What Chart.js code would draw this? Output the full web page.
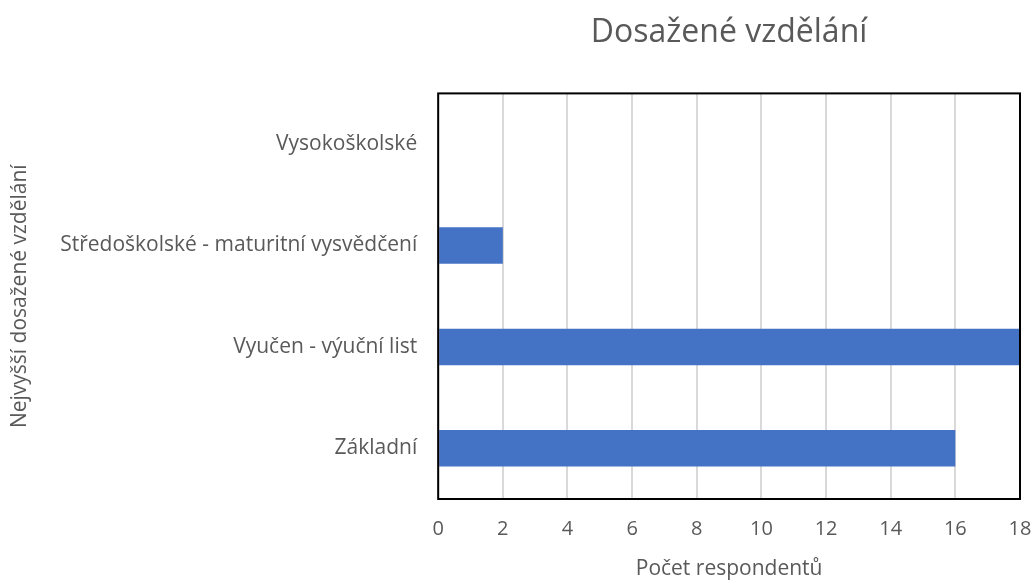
<!DOCTYPE html>
<html>
<head>
<meta charset="utf-8">
<script src="https://cdn.jsdelivr.net/npm/chart.js@4/dist/chart.umd.min.js"></script>
<style>
  html, body { margin: 0; padding: 0; background: #fff; }
  #wrap { width: 1035px; height: 580px; }
</style>
</head>
<body>
<div id="wrap"><canvas id="eduChart"></canvas></div>
<script>
const categories = ['Vysokoškolské', 'Středoškolské - maturitní vysvědčení', 'Vyučen - výuční list', 'Základní'];
const respondents = [0, 2, 18, 16];
const xMin = 0;
const xMax = 18;
const xStep = 2;

const textColor = '#595959';
const fontFamily = '"Open Sans", "Liberation Sans", sans-serif';

// black frame around the plot area
const plotFrame = {
    id: 'plotFrame',
    afterDraw(chart) {
        const a = chart.chartArea;
        const ctx = chart.ctx;
        ctx.save();
        ctx.strokeStyle = '#000';
        ctx.lineWidth = 2;
        ctx.strokeRect(a.left, a.top, a.right - a.left, a.bottom - a.top);
        ctx.restore();
    }
};

document.addEventListener('DOMContentLoaded', function () {
    const ctx = document.getElementById('eduChart').getContext('2d');
    new Chart(ctx, {
        type: 'bar',
        data: {
            labels: categories,
            datasets: [
                {
                    label: 'Počet respondentů',
                    data: respondents,
                    backgroundColor: '#4472C4',
                    borderWidth: 0,
                    categoryPercentage: 1,
                    barPercentage: 0.36,
                },
            ],
        },
        options: {
            indexAxis: 'y',
            responsive: true,
            maintainAspectRatio: false,
            animation: false,
            layout: {
                padding: { top: 12, right: 4, bottom: 0, left: 7 },
            },
            scales: {
                x: {
                    min: xMin,
                    max: xMax,
                    afterFit(scale) {
                        // let the last tick label hang a little past the frame
                        scale.paddingRight = 15;
                    },
                    ticks: {
                        stepSize: xStep,
                        color: textColor,
                        font: { family: fontFamily, size: 20 },
                        padding: 18,
                    },
                    grid: {
                        color: '#d9d9d9',
                        lineWidth: 2,
                        drawTicks: false,
                    },
                    border: { display: false },
                    title: {
                        display: true,
                        text: 'Počet respondentů',
                        color: textColor,
                        font: { family: fontFamily, size: 21, lineHeight: 1.0 },
                        padding: { top: 0, bottom: 0 },
                    },
                },
                y: {
                    ticks: {
                        color: textColor,
                        font: { family: fontFamily, size: 21 },
                        padding: 21,
                    },
                    grid: { display: false, drawTicks: false },
                    border: { display: false },
                    title: {
                        display: true,
                        text: 'Nejvyšší dosažené vzdělání',
                        color: textColor,
                        font: { family: fontFamily, size: 21 },
                        padding: { top: 0, bottom: 7 },
                    },
                },
            },
            plugins: {
                legend: { display: false },
                tooltip: { enabled: false },
                title: {
                    display: true,
                    fullSize: false,
                    text: 'Dosažené vzdělání',
                    color: textColor,
                    font: { family: fontFamily, size: 32, weight: 'normal' },
                    padding: { top: 2, bottom: 41 },
                },
            },
        },
        plugins: [plotFrame],
    });
});
</script>
</body>
</html>
